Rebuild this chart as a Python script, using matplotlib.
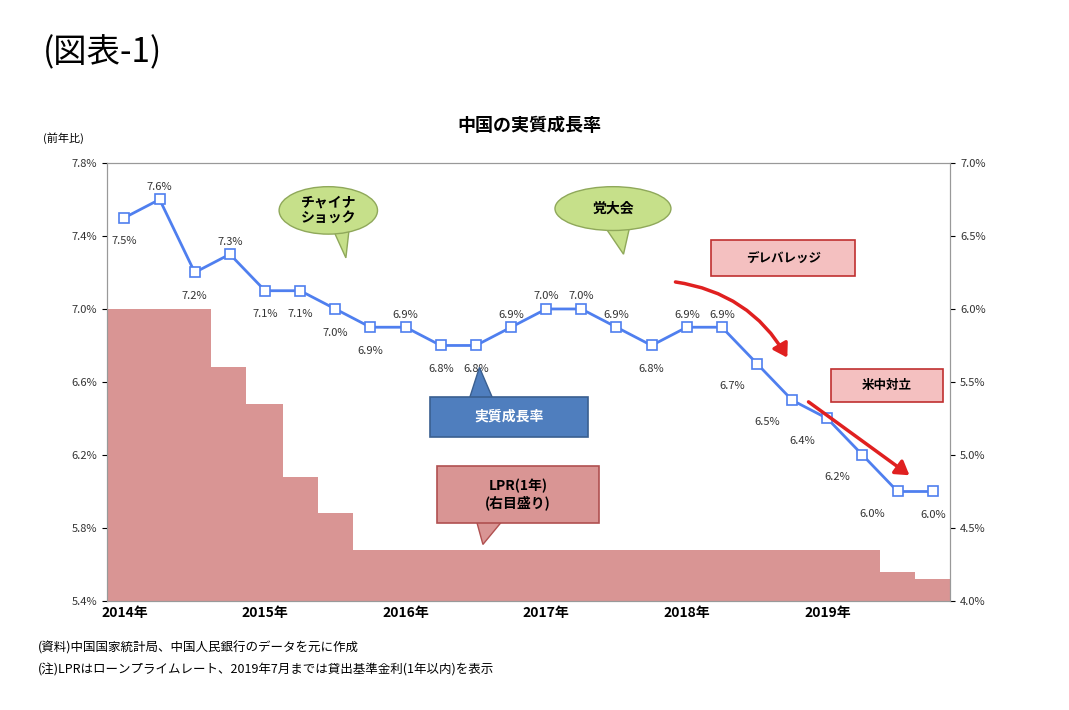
import matplotlib
matplotlib.use("Agg")
import matplotlib.pyplot as plt
from matplotlib.patches import FancyBboxPatch, Ellipse, Polygon, FancyArrowPatch

plt.rcParams["font.family"] = "Noto Sans CJK JP"

growth = [7.5, 7.6, 7.2, 7.3, 7.1, 7.1, 7.0, 6.9, 6.9, 6.8, 6.8, 6.9,
          7.0, 7.0, 6.9, 6.8, 6.9, 6.9, 6.7, 6.5, 6.4, 6.2, 6.0, 6.0]
label_pos = ["b", "a", "b", "a", "b", "b", "b", "b", "a", "b", "b", "a",
             "a", "a", "a", "b", "a", "a", "l", "l", "l", "l", "l", "b"]
lpr_edges = [0, 2.95, 3.95, 5.0, 6.0, 7.0, 22.0, 23.0, 24.0]
lpr_vals = [6.0, 5.6, 5.35, 4.85, 4.6, 4.35, 4.2, 4.15]
years = ["2014年", "2015年", "2016年", "2017年", "2018年", "2019年"]
left_ticks = [5.4, 5.8, 6.2, 6.6, 7.0, 7.4, 7.8]
right_ticks = [4.0, 4.5, 5.0, 5.5, 6.0, 6.5, 7.0]

fig = plt.figure(figsize=(10.69, 7.10), dpi=100)
ax = fig.add_axes([0.100, 0.1535, 0.789, 0.617])
ax2 = ax.twinx()
ax.set_zorder(2); ax2.set_zorder(1)
ax.patch.set_visible(False)
ax2.set_facecolor("#EEF2E0")

for i, v in enumerate(lpr_vals):
    ax2.fill_between([lpr_edges[i], lpr_edges[i+1]], 4.0, v, color="#D99594", lw=0)
ax2.set_ylim(4.0, 7.0)
ax2.set_yticks(right_ticks)
ax2.set_yticklabels([f"{t:.1f}%" for t in right_ticks], fontsize=8, color="#333")

xs = [i + 0.5 for i in range(len(growth))]
ax.plot(xs, growth, color="#4F7FEF", lw=2, marker="s", ms=7, mfc="white", mec="#4F7FEF", mew=1.2)
off = {"a": (0, 9), "b": (0, -17), "l": (-18, -16)}
for x, v, p in zip(xs, growth, label_pos):
    dx, dy = off[p]
    ax.annotate(f"{v:.1f}%", (x, v), xytext=(dx, dy), textcoords="offset points",
                ha="center", va="center", fontsize=8, color="#333")
ax.set_xlim(0, 24)
ax.set_ylim(5.4, 7.8)
ax.set_yticks(left_ticks)
ax.set_yticklabels([f"{t:.1f}%" for t in left_ticks], fontsize=8, color="#333")
ax.set_xticks([0.5 + 4 * k for k in range(6)])
ax.set_xticklabels(years, fontsize=10, fontweight="bold")
ax.tick_params(axis="x", length=0)
for a in (ax, ax2):
    for s in a.spines.values():
        s.set_color("#999")

def bubble(cx, cy, w, h, tail, text):
    ax.add_patch(Ellipse((cx, cy), w, h, fc="#C6E08A", ec="#8FA85A", lw=1, zorder=5))
    ax.add_patch(Polygon(tail, fc="#C6E08A", ec="#8FA85A", lw=1, zorder=4))
    ax.text(cx, cy, text, ha="center", va="center", fontsize=10, fontweight="bold", zorder=6)

bubble(6.3, 7.54, 2.8, 0.26, [(6.4, 7.45), (6.9, 7.45), (6.8, 7.28)], "チャイナ\nショック")
bubble(14.4, 7.55, 3.3, 0.24, [(14.1, 7.47), (14.9, 7.47), (14.7, 7.3)], "党大会")

def box(x0, y0, w, h, fc, ec, text, tail=None, color="black", fs=10):
    if tail:
        ax.add_patch(Polygon(tail, fc=fc, ec=ec, lw=1, zorder=4))
    ax.add_patch(FancyBboxPatch((x0, y0), w, h, boxstyle="square,pad=0", fc=fc, ec=ec, lw=1.2, zorder=5))
    ax.text(x0 + w / 2, y0 + h / 2, text, ha="center", va="center", fontsize=fs,
            fontweight="bold", color=color, zorder=6)

box(9.2, 6.3, 4.5, 0.22, "#4F7EBE", "#3A5F90", "実質成長率",
    [(10.3, 6.5), (11.0, 6.5), (10.6, 6.68)], color="white")
box(9.4, 5.83, 4.6, 0.31, "#D99594", "#B05050", "LPR(1年)\n(右目盛り)",
    [(10.5, 5.85), (11.3, 5.85), (10.7, 5.71)])
box(17.2, 7.18, 4.1, 0.2, "#F4C0C0", "#C03030", "デレバレッジ", fs=9)
box(20.6, 6.49, 3.2, 0.18, "#F4C0C0", "#C03030", "米中対立", fs=9)

ax.add_patch(FancyArrowPatch((16.1, 7.15), (19.4, 6.72), connectionstyle="arc3,rad=-0.25",
                             arrowstyle="-|>,head_length=8,head_width=5", color="#E02020", lw=2.5, zorder=6))
ax.add_patch(FancyArrowPatch((19.9, 6.5), (22.9, 6.08), arrowstyle="-|>,head_length=8,head_width=5",
                             color="#E02020", lw=2.5, zorder=6))

fig.text(0.04, 0.925, "(図表-1)", fontsize=24, va="center")
fig.text(0.495, 0.823, "中国の実質成長率", fontsize=13, fontweight="bold", ha="center", va="center")
fig.text(0.04, 0.805, "(前年比)", fontsize=8, va="center")
fig.text(0.035, 0.087, "(資料)中国国家統計局、中国人民銀行のデータを元に作成", fontsize=9, va="center")
fig.text(0.035, 0.057, "(注)LPRはローンプライムレート、2019年7月までは貸出基準金利(1年以内)を表示", fontsize=9, va="center")

fig.savefig("out.png", dpi=100)
